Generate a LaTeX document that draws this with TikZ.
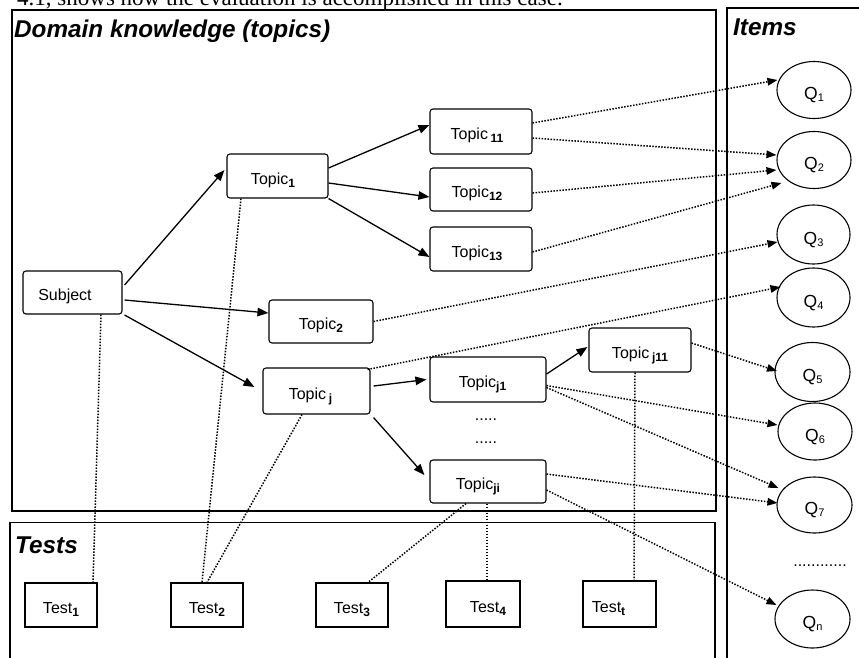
\documentclass[tikz,border=0pt]{standalone}
\usepackage{fontspec}
\setmainfont{Liberation Sans}
\newfontfamily\bodyserif{Liberation Serif}
\usetikzlibrary{arrows.meta,shapes.geometric}
\newcommand{\bsub}[1]{\raisebox{-3pt}{\fontsize{12}{12}\selectfont\bfseries #1}}
\newcommand{\qsub}[1]{\raisebox{-2pt}{\fontsize{11}{11}\selectfont #1}}
\begin{document}
\begin{tikzpicture}[x=1pt,y=-1pt,
  frame/.style={line width=1.3pt},
  topicbox/.style={draw, line width=1.1pt, rounded corners=3pt, minimum width=102pt, minimum height=44pt,
    inner sep=0pt, text height=16pt, text depth=0pt, font=\fontsize{16}{19}\selectfont},
  testbox/.style={draw, line width=1.1pt, minimum width=72pt, minimum height=44pt,
    inner sep=0pt, text height=16pt, text depth=0pt, font=\fontsize{16}{19}\selectfont},
  qnode/.style={draw, ellipse, line width=1.1pt, minimum width=74pt, minimum height=57pt,
    inner sep=0pt, text height=19pt, text depth=0pt, font=\fontsize{17.5}{20}\selectfont},
  titletext/.style={anchor=base west, inner sep=0pt, font=\fontsize{24.3}{28}\selectfont\bfseries\itshape},
  dotstext/.style={anchor=base, inner sep=0pt, font=\fontsize{16}{19}\selectfont},
  solidarrow/.style={line width=1.3pt, -{Triangle[length=11pt,width=8.5pt]}},
  dotarrow/.style={line width=1.5pt, dash pattern=on 1.5pt off 1.5pt, -{Triangle[length=10pt,width=7.5pt]}},
  dotline/.style={line width=1.5pt, dash pattern=on 1.5pt off 1.5pt}
]
\useasboundingbox (0,0) rectangle (859,657);
\clip (0,0) rectangle (859,657);

% top (cropped) line of running text
\node[anchor=base west, inner sep=0pt, font=\bodyserif\fontsize{23}{27}\selectfont] (toptext) at (17,5.5)
  {4.1, shows how the evaluation is accomplished in this case.};

% frames
\draw[frame] (12,10) rectangle (716,511);
\draw[frame] (10,680) -- (10,522.5) -- (715,522.5) -- (715,680);
\draw[frame] (727,680) -- (727,8) -- (890,8);

\node[titletext] (tdomain) at (14,37) {Domain knowledge (topics)};
\node[titletext] (titems) at (733,35) {Items};
\node[titletext] (ttests) at (15,553) {Tests};

% topics
\node[topicbox, minimum width=99pt, minimum height=43pt] (subj) at (72.5,292.5) {Subject\kern15pt};
\node[topicbox, minimum width=101pt] (t1) at (277.5,176) {Topic\bsub{1}\kern9pt};
\node[topicbox, minimum height=45pt] (t11) at (481,131.5) {Topic\,\bsub{11}\kern8pt};
\node[topicbox, minimum height=43pt] (t12) at (481,189.5) {Topic\bsub{12}\kern8pt};
\node[topicbox] (t13) at (481,249) {Topic\bsub{13}\kern8pt};
\node[topicbox, minimum width=104pt, minimum height=43pt] (t2) at (321,321.5) {Topic\bsub{2}};
\node[topicbox, minimum width=107pt, minimum height=46pt] (tj) at (316.5,391) {Topic\,\bsub{j}\kern12pt};
\node[topicbox, minimum width=116pt, minimum height=45pt] (tj1) at (488,379.5) {Topic\bsub{j1}\kern11pt};
\node[topicbox] (tj11) at (640,350) {Topic\,\bsub{j11}};
\node[topicbox, minimum width=116pt, minimum height=43pt] (tji) at (488,481.5) {Topic\bsub{ji}\kern20pt};
\node[dotstext] (dotsa) at (486,420) {.....};
\node[dotstext] (dotsb) at (486,443) {.....};

% tests
\node[testbox] (s1) at (61,605) {Test\bsub{1}};
\node[testbox] (s2) at (207,605) {Test\bsub{2}};
\node[testbox] (s3) at (352,605) {Test\bsub{3}};
\node[testbox, minimum width=74pt, minimum height=46pt] (s4) at (483,604) {\kern10pt Test\bsub{4}};
\node[testbox, minimum width=73pt, minimum height=46pt] (st) at (619.5,604) {Test\bsub{t}\kern22pt};

% items
\node[qnode] (q1) at (814,90) {Q\qsub{1}};
\node[qnode] (q2) at (814,160) {Q\qsub{2}};
\node[qnode, minimum width=73pt, minimum height=59pt] (q3) at (813.5,234.5) {Q\qsub{3}};
\node[qnode, minimum width=73pt, minimum height=59pt] (q4) at (813.5,297.5) {Q\qsub{4}};
\node[qnode, minimum width=75pt, minimum height=59pt] (q5) at (812.5,372) {Q\qsub{5}};
\node[qnode] (q6) at (815,431.5) {Q\qsub{6}};
\node[qnode, minimum width=75pt, minimum height=56pt] (q7) at (814.5,505) {Q\qsub{7}};
\node[dotstext] (qdots) at (820,566) {............};
\node[qnode, minimum width=75pt, minimum height=58pt] (qn) at (812.5,619) {Q\qsub{n}};

% solid arrows (topic hierarchy)
\draw[solidarrow] ([xshift=2pt,yshift=7.5pt]subj.east) -- ([xshift=-2pt,yshift=6pt]t1.west);
\draw[solidarrow] ([yshift=8pt]t1.east) -- ([yshift=6.5pt]t11.west);
\draw[solidarrow] ([yshift=-7pt]t1.east) -- ([yshift=-7.5pt]t12.west);
\draw[solidarrow] (t1.south east) -- ([yshift=-8pt]t13.west);
\draw[solidarrow] ([xshift=2pt,yshift=-7.5pt]subj.east) -- ([yshift=8.5pt]t2.west);
\draw[solidarrow] ([xshift=2pt,yshift=-22.5pt]subj.east) -- ([xshift=-8pt,yshift=4pt]tj.west);
\draw[solidarrow] ([xshift=3pt,yshift=5pt]tj.east) -- ([xshift=-3pt]tj1.west);
\draw[solidarrow] ([xshift=3pt,yshift=-3pt]tj.south east) -- ([xshift=-5pt,yshift=6.5pt]tji.west);
\draw[solidarrow] ([yshift=5.5pt]tj1.east) -- ([xshift=-1pt,yshift=3pt]tj11.west);

% dotted arrows (topics to items)
\draw[dotarrow] ([yshift=8.5pt]t11.east) -- ([xshift=1pt,yshift=10pt]q1.west);
\draw[dotarrow] ([yshift=-6.5pt]t11.east) -- ([yshift=5pt]q2.west);
\draw[dotarrow] ([yshift=-3.5pt]t12.east) -- ([yshift=-10pt]q2.west);
\draw[dotarrow] ([yshift=-3pt]t13.east) -- ([xshift=5pt,yshift=-23pt]q2.west);
\draw[dotarrow] (t2.east) -- ([xshift=1pt,yshift=-7.5pt]q3.west);
\draw[dotarrow] ([xshift=-3pt,yshift=-2pt]tj.north east) -- ([xshift=4pt,yshift=10.5pt]q4.west);
\draw[dotarrow] ([yshift=7pt]tj11.east) -- ([xshift=2.5pt,yshift=1pt]q5.west);
\draw[dotarrow] ([yshift=-6pt]tj1.east) -- ([yshift=6.5pt]q6.west);
\draw[dotarrow] ([yshift=-8pt]tj1.east) -- ([xshift=2pt,yshift=17pt]q7.west);
\draw[dotarrow] ([yshift=7.5pt]tji.east) -- ([xshift=1pt,yshift=2pt]q7.west);
\draw[dotarrow] ([yshift=-8.5pt]tji.east) -- ([xshift=2pt,yshift=14pt]qn.west);

% dotted lines (tests to topics)
\draw[dotline] ([xshift=28.5pt]subj.south) -- ([xshift=32pt]s1.north);
\draw[dotline] ([xshift=-36.5pt]t1.south) -- ([xshift=-5pt]s2.north);
\draw[dotline] ([xshift=-14.5pt]tj.south) -- (s2.north);
\draw[dotline] ([xshift=-22pt]tji.south) -- ([xshift=16pt]s3.north);
\draw[dotline] ([xshift=-1pt]tji.south) -- ([xshift=4pt]s4.north);
\draw[dotline] ([xshift=-5pt]tj11.south) -- ([xshift=14.5pt]st.north);
\end{tikzpicture}
\end{document}
